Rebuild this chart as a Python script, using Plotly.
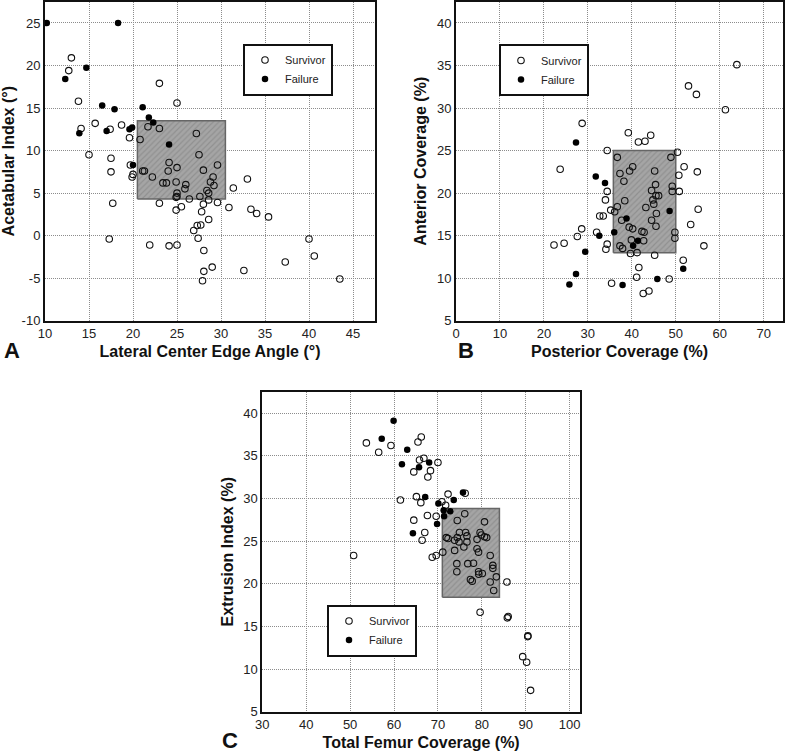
import plotly.graph_objects as go

# ---------------- Panel A data ----------------
a_surv_x = [13.0, 12.7, 13.8, 14.1, 15.7, 17.4, 18.7, 19.6, 20.8, 21.7, 23.0, 23.0, 25.0, 15.0, 17.5,
            24.1, 25.0, 27.2, 27.5, 29.6, 28.0, 17.5, 19.7, 20.0, 19.9, 21.1, 21.3, 22.2, 23.4, 23.8,
            24.0, 24.9, 26.0, 25.9, 25.0, 25.0, 24.9, 26.4, 27.6, 23.0, 24.9, 25.5, 17.3, 17.7, 21.9,
            24.1, 25.0, 26.9, 27.3, 27.7, 27.4, 29.1, 28.8, 29.2, 28.4, 28.6, 28.6, 29.6, 28.0, 27.8,
            28.6, 28.05, 29.0, 28.05, 27.9, 31.4, 33.0, 30.9, 33.4, 34.05, 35.4, 40.0, 40.6, 37.3,
            32.6, 43.5]
a_surv_y = [20.9, 19.4, 15.8, 12.6, 13.2, 12.5, 13.0, 11.5, 11.3, 12.8, 12.6, 17.9, 15.6, 9.5, 9.1,
            8.6, 8.0, 12.0, 9.5, 8.3, 7.7, 7.5, 8.3, 7.2, 6.9, 7.6, 7.6, 6.9, 6.2, 6.2,
            7.6, 6.3, 6.0, 5.5, 5.0, 4.6, 4.5, 4.3, 4.6, 3.8, 3.0, 3.4, -0.4, 3.8, -1.1,
            -1.2, -1.1, 0.6, 1.2, 1.25, -0.3, 6.9, 6.3, 5.9, 5.3, 5.0, 4.2, 3.9, 3.7, 2.8,
            1.9, -1.75, -3.7, -4.2, -5.3, 5.6, 6.65, 3.3, 3.1, 2.6, 2.2, -0.4, -2.4, -3.1,
            -4.1, -5.1]
a_fail_x = [10.2, 18.3, 14.7, 12.3, 16.5, 17.9, 21.1, 13.9, 17.0, 19.6, 19.9, 21.8, 22.3, 24.1, 20.0]
a_fail_y = [25.0, 25.0, 19.75, 18.4, 15.3, 14.85, 15.1, 12.05, 12.3, 12.5, 12.7, 13.9, 13.3, 10.7, 8.3]
a_box_x = [20.5, 30.5]
a_box_y = [4.3, 13.5]
a_xticks = [10, 15, 20, 25, 30, 35, 40, 45]
a_yticks = [-10, -5, 0, 5, 10, 15, 20, 25]

# ---------------- Panel B data ----------------
b_surv_x = [28.7, 23.7, 63.9, 52.9, 54.7, 61.3, 39.2, 41.5, 43.0, 44.3, 34.4, 36.7, 48.9, 50.4, 40.2,
            51.9, 22.3, 24.6, 27.6, 28.6, 32.0, 37.3, 39.5, 45.2, 50.7, 54.9, 38.2, 45.4, 34.4, 44.5,
            49.2, 49.2, 50.8, 45.5, 46.1, 34.0, 44.8, 45.0, 38.4, 36.7, 35.2, 36.1, 43.2, 45.6, 55.1,
            32.7, 33.5, 37.7, 44.5, 53.4, 39.4, 40.2, 45.5, 42.3, 42.8, 49.8, 49.8, 39.9, 42.7, 34.4,
            34.1, 37.3, 37.9, 39.7, 41.2, 45.2, 56.4, 51.7, 41.6, 41.1, 48.5, 35.4, 42.6, 43.9]
b_surv_y = [28.2, 22.8, 35.1, 32.6, 31.6, 29.8, 27.1, 26.0, 26.1, 26.8, 25.0, 24.2, 24.2, 24.8, 23.1,
            23.1, 13.9, 14.1, 14.9, 15.8, 15.4, 22.3, 22.6, 22.6, 22.1, 22.5, 21.4, 21.0, 20.2, 20.3,
            20.8, 20.2, 20.2, 19.7, 19.7, 19.2, 19.2, 18.7, 19.1, 18.4, 18.0, 17.8, 18.3, 17.6, 18.1,
            17.3, 17.3, 16.8, 16.8, 16.3, 16.0, 15.8, 16.1, 15.5, 15.4, 15.4, 14.7, 14.5, 14.4, 14.0,
            13.4, 13.8, 13.5, 12.9, 13.0, 12.7, 13.8, 12.1, 11.25, 10.1, 9.9, 9.4, 8.2, 8.5]
b_fail_x = [27.3, 31.8, 33.9, 32.6, 29.4, 27.3, 25.8, 48.6, 38.8, 36.0, 41.4, 40.3, 51.7, 45.8, 37.9]
b_fail_y = [25.95, 21.95, 21.2, 15.0, 13.1, 10.5, 9.25, 17.9, 17.0, 15.4, 14.4, 13.8, 11.1, 9.9, 9.2]
b_box_x = [35.8, 50.0]
b_box_y = [13.0, 25.0]
b_xticks = [0, 10, 20, 30, 40, 50, 60, 70]
b_yticks = [5, 10, 15, 20, 25, 30, 35, 40]

# ---------------- Panel C data ----------------
c_surv_x = [53.7, 56.5, 59.3, 65.45, 66.2, 65.8, 66.8, 70.0, 68.3, 64.5, 67.7, 61.45, 65.1, 66.1, 72.3,
            76.2, 70.9, 71.75, 69.6, 67.6, 64.5, 76.1, 74.4, 80.6, 67.0, 66.4, 68.7, 69.6, 71.1, 71.9,
            72.3, 73.8, 73.8, 74.4, 74.9, 74.8, 76.3, 76.6, 76.6, 75.9, 74.3, 74.3, 76.8, 78.1, 78.9,
            79.25, 78.9, 79.6, 79.9, 80.6, 81.1, 81.9, 82.5, 82.5, 83.3, 81.9, 82.7, 79.25, 80.1, 79.3,
            77.4, 77.8, 85.7, 79.6, 85.8, 86.0, 90.45, 90.5, 89.3, 90.2, 91.1, 50.8]
c_surv_y = [36.5, 35.4, 36.2, 36.6, 37.2, 34.5, 34.7, 34.2, 33.25, 33.1, 32.5, 29.8, 30.2, 29.5, 30.5,
            30.6, 29.6, 29.2, 27.9, 28.0, 27.45, 28.2, 27.4, 27.25, 26.0, 25.1, 23.1, 23.3, 23.7, 25.4,
            25.3, 23.9, 25.1, 25.4, 26.0, 24.9, 26.0, 25.6, 24.9, 24.3, 22.35, 21.4, 22.35, 22.4, 24.1,
            23.7, 25.2, 26.0, 25.7, 25.5, 25.4, 23.3, 22.15, 21.8, 20.8, 20.2, 19.2, 21.4, 21.2, 21.1,
            20.5, 20.3, 20.2, 16.65, 16.0, 16.15, 13.8, 13.9, 11.45, 10.8, 7.5, 23.3]
c_fail_x = [59.9, 57.2, 63.0, 61.8, 65.7, 68.0, 67.1, 75.7, 73.6, 70.1, 71.3, 72.8, 71.4, 69.8, 64.3]
c_fail_y = [39.1, 37.0, 35.7, 34.0, 33.65, 34.2, 30.15, 30.7, 29.8, 29.4, 28.6, 28.5, 27.9, 27.0, 25.9]
c_box_x = [71.0, 84.0]
c_box_y = [18.4, 28.8]
c_xticks = [30, 40, 50, 60, 70, 80, 90, 100]
c_yticks = [5, 10, 15, 20, 25, 30, 35, 40]

FONT = "Liberation Sans, Arial, sans-serif"
W, H = 787, 753

fig = go.Figure()

panels = [
    ("x", "y", "legend", a_surv_x, a_surv_y, a_fail_x, a_fail_y, a_box_x, a_box_y),
    ("x2", "y2", "legend2", b_surv_x, b_surv_y, b_fail_x, b_fail_y, b_box_x, b_box_y),
    ("x3", "y3", "legend3", c_surv_x, c_surv_y, c_fail_x, c_fail_y, c_box_x, c_box_y),
]

for xa, ya, lg, sx, sy, fx, fy, bx, by in panels:
    # hatched box
    fig.add_trace(go.Scatter(
        x=[bx[0], bx[1], bx[1], bx[0], bx[0]], y=[by[0], by[0], by[1], by[1], by[0]],
        mode="lines", fill="toself", fillcolor="#a3a3a3",
        fillpattern=dict(shape="/", bgcolor="#a5a5a5", fgcolor="#7c7c7c", size=4, solidity=0.3),
        line=dict(color="#666666", width=1.5), xaxis=xa, yaxis=ya,
        showlegend=False, hoverinfo="skip"))
    fig.add_trace(go.Scatter(
        x=sx, y=sy, mode="markers", name="Survivor", xaxis=xa, yaxis=ya, legend=lg,
        marker=dict(symbol="circle-open", size=6.5, color="#111111", line=dict(width=1.1, color="#111111"))))
    fig.add_trace(go.Scatter(
        x=fx, y=fy, mode="markers", name="Failure", xaxis=xa, yaxis=ya, legend=lg,
        marker=dict(symbol="circle", size=6.5, color="#000000")))

def ax(domain, rng, ticks, title, anchor, standoff):
    return dict(
        domain=domain, range=rng, tickmode="array", tickvals=ticks,
        ticktext=[str(t) for t in ticks], anchor=anchor, automargin=False,
        showline=True, linecolor="#111111", linewidth=2, mirror=True,
        showgrid=True, gridcolor="#8c8c8c", griddash="1px,1px", gridwidth=1,
        zeroline=False, ticks="", ticklen=0,
        tickfont=dict(family=FONT, size=13, color="#222222"),
        title=dict(text=title, font=dict(family=FONT, size=16, color="#111111", weight="bold"),
                   standoff=standoff),
    )

def xd(l, r):
    return [l / W, r / W]

def yd(b, t):
    return [1 - b / H, 1 - t / H]

layout = dict(
    width=W, height=H, margin=dict(l=0, r=0, t=0, b=0, pad=0, autoexpand=False),
    plot_bgcolor="white", paper_bgcolor="white",
    font=dict(family=FONT, color="#111111"),
    xaxis=ax(xd(45, 375), [10, 47.5], a_xticks, "Lateral Center Edge Angle (°)", "y", 6),
    yaxis=ax(yd(320.7, 1.7), [-10, 27.5], a_yticks, "Acetabular Index (°)", "x", 6),
    xaxis2=ax(xd(456, 783), [0, 74.4], b_xticks, "Posterior Coverage (%)", "y2", 6),
    yaxis2=ax(yd(320.7, 1.7), [5, 42.5], b_yticks, "Anterior Coverage (%)", "x2", 6),
    xaxis3=ax(xd(262.3, 580), [30, 102.35], c_xticks, "Total Femur Coverage (%)", "y3", 6),
    yaxis3=ax(yd(711.7, 391.7), [5, 42.5], c_yticks, "Extrusion Index (%)", "x3", 6),
    showlegend=True,
)

def leg(x0, y0):
    return dict(x=x0 / W, y=1 - y0 / H, xanchor="left", yanchor="top",
                bgcolor="white", bordercolor="#111111", borderwidth=2,
                font=dict(family=FONT, size=11, color="#222222"),
                tracegroupgap=0, itemsizing="trace", entrywidth=66, entrywidthmode="pixels")

layout["legend"] = leg(243, 43.5)
layout["legend2"] = leg(499, 44)
layout["legend3"] = leg(327, 604.5)

fig.update_layout(**layout)

for txt, x0, y0 in [("A", 12, 350), ("B", 466, 350), ("C", 230, 740)]:
    fig.add_annotation(text=txt, x=x0 / W, y=1 - y0 / H, xref="paper", yref="paper",
                       showarrow=False, xanchor="center", yanchor="middle",
                       font=dict(family=FONT, size=22, color="#111111", weight="bold"))

fig.write_html("out.html", config={"displayModeBar": False},
               post_script="document.body.style.margin='0';document.body.style.overflow='hidden';")
